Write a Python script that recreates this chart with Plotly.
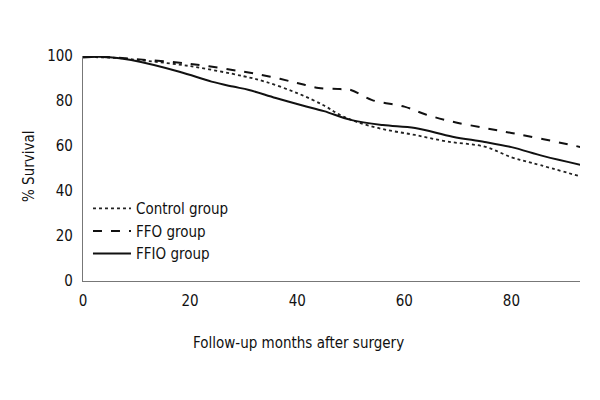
import plotly.graph_objects as go

months_control = [0, 5, 10, 20, 30, 34, 40, 45, 48, 51, 56, 62, 68, 75, 80, 84, 93]
control = [99.5, 99.3, 98.3, 95.5, 91.0, 88.6, 83.5, 78.0, 73.8, 70.8, 67.5, 64.9, 62.0, 59.7, 55.0, 52.4, 46.4]

months_ffo = [0, 5, 10, 20, 30, 35, 40, 44, 48, 50, 54, 60, 64, 69, 75, 80, 86, 93]
ffo = [99.5, 99.5, 98.6, 96.5, 93.0, 90.8, 88.0, 85.8, 85.3, 84.9, 80.4, 77.5, 74.0, 70.8, 68.0, 65.8, 63.0, 59.5]

months_ffio = [0, 5, 9, 18, 24, 28, 31, 36, 41, 45, 50, 56, 62, 69, 75, 80, 86, 93]
ffio = [99.5, 99.5, 98.2, 93.0, 88.6, 86.4, 84.9, 81.3, 78.0, 75.5, 71.6, 69.3, 68.0, 64.1, 61.8, 59.5, 55.5, 51.6]

x_ticks = [0, 20, 40, 60, 80]
y_ticks = [0, 20, 40, 60, 80, 100]

FONT = "DejaVu Sans Condensed, Roboto, sans-serif"

fig = go.Figure()
fig.add_trace(go.Scatter(x=months_control, y=control, mode="lines", name="Control group",
                         line=dict(color="#222", width=1.8, dash="dot", shape="spline")))
fig.add_trace(go.Scatter(x=months_ffo, y=ffo, mode="lines", name="FFO group",
                         line=dict(color="#111", width=2, dash="dash", shape="spline")))
fig.add_trace(go.Scatter(x=months_ffio, y=ffio, mode="lines", name="FFIO group",
                         line=dict(color="#111", width=2, shape="spline")))

# page body has an 8px margin, so margins compensate for it
fig.update_layout(
    width=600, height=400,
    margin=dict(l=75, r=28, t=48, b=127),
    paper_bgcolor="white", plot_bgcolor="white",
    font=dict(family=FONT, size=15, color="#111"),
    showlegend=True,
    legend=dict(x=0.01, y=0.395, xanchor="left", yanchor="top",
                bgcolor="rgba(0,0,0,0)", font=dict(size=15),
                itemwidth=38, tracegroupgap=0),
    xaxis=dict(range=[0, 92.8], tickvals=x_ticks, showgrid=False, zeroline=False,
               showline=True, linecolor="#777", linewidth=1.2, ticks="",
               automargin=False, ticklabelstandoff=6,
               tickfont=dict(size=15)),
    yaxis=dict(range=[0, 100], tickvals=y_ticks, showgrid=False, zeroline=False,
               showline=True, linecolor="#777", linewidth=1.2, ticks="",
               automargin=False, ticklabelstandoff=6,
               tickfont=dict(size=15)),
    annotations=[
        dict(text="Follow-up months after surgery", xref="paper", yref="paper",
             x=(298 - 83) / 497, y=-(343 - 281) / 225, xanchor="center", yanchor="middle",
             showarrow=False, font=dict(size=15)),
        dict(text="% Survival", xref="paper", yref="paper",
             x=-(83 - 29) / 497, y=(281 - 166) / 225, xanchor="center", yanchor="middle",
             textangle=-90, showarrow=False, font=dict(size=15)),
    ],
)

fig.write_html("out.html")
